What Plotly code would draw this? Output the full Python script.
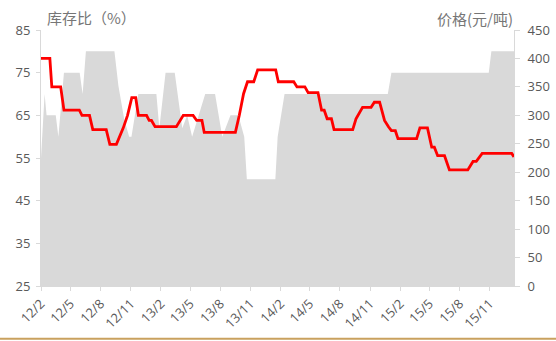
import plotly.graph_objects as go

# Stock ratio (%), left axis
ratio_dates = [
    "2012-02-01", "2012-02-12", "2012-02-18", "2012-03-17", "2012-03-25",
    "2012-04-11", "2012-05-29", "2012-06-07", "2012-06-17", "2012-09-12",
    "2012-09-24", "2012-10-12", "2012-10-27", "2012-11-03", "2012-11-24",
    "2013-01-18", "2013-01-27", "2013-02-15", "2013-03-15", "2013-04-07",
    "2013-04-22", "2013-05-07", "2013-06-16", "2013-07-16", "2013-08-07",
    "2013-09-01", "2013-09-25", "2013-10-13", "2013-10-21", "2014-01-16",
    "2014-01-23", "2014-02-13", "2014-12-25", "2015-01-05", "2015-10-29",
    "2015-11-06", "2016-01-14",
]
ratio_values = [
    55, 70, 65, 65, 60,
    75, 75, 70, 80, 80,
    72, 64, 60, 60, 70,
    70, 62, 75, 75, 62,
    65, 60, 70, 70, 60,
    65, 65, 60, 50, 50,
    60, 70, 70, 75, 75,
    80, 80,
]

# Price (yuan/ton), right axis
price_dates = [
    "2012-02-01", "2012-02-28", "2012-03-05", "2012-04-01", "2012-04-11",
    "2012-05-28", "2012-06-05", "2012-06-28", "2012-07-08", "2012-08-18",
    "2012-08-29", "2012-09-18", "2012-10-09", "2012-10-22", "2012-11-04",
    "2012-11-16", "2012-11-24", "2012-12-19", "2012-12-27", "2013-01-03",
    "2013-01-14", "2013-03-20", "2013-04-10", "2013-05-10", "2013-05-21",
    "2013-06-06", "2013-06-13", "2013-09-16", "2013-09-28", "2013-10-11",
    "2013-10-23", "2013-11-11", "2013-11-23", "2014-01-17", "2014-01-25",
    "2014-03-13", "2014-03-23", "2014-04-16", "2014-04-26", "2014-05-26",
    "2014-06-06", "2014-06-14", "2014-06-23", "2014-07-06", "2014-07-14",
    "2014-09-09", "2014-09-19", "2014-10-09", "2014-11-04", "2014-11-14",
    "2014-11-30", "2014-12-07", "2014-12-15", "2014-12-27", "2015-01-05",
    "2015-01-17", "2015-01-25", "2015-03-23", "2015-04-02", "2015-04-25",
    "2015-05-08", "2015-05-16", "2015-05-26", "2015-06-16", "2015-07-01",
    "2015-08-26", "2015-09-11", "2015-09-21", "2015-10-09", "2016-01-07",
    "2016-01-14",
]
price_values = [
    400, 400, 350, 350, 309,
    309, 300, 300, 275, 275,
    249, 249, 278, 300, 331,
    331, 300, 300, 291, 291,
    280, 280, 300, 300, 291,
    291, 270, 270, 300, 338,
    359, 359, 380, 380, 359,
    359, 350, 350, 340, 340,
    309, 309, 294, 294, 275,
    275, 294, 314, 314, 323,
    323, 309, 291, 280, 273,
    273, 259, 259, 278, 278,
    244, 244, 229, 229, 204,
    204, 219, 219, 233, 233,
    227,
]

left_ticks = [25, 35, 45, 55, 65, 75, 85]
right_ticks = [0, 50, 100, 150, 200, 250, 300, 350, 400, 450]

num_font = dict(family="Open Sans, DejaVu Sans, sans-serif", size=13, color="#595959")
cjk_font = dict(family="Noto Sans CJK SC, sans-serif", size=15, color="#767676")

fig = go.Figure()
fig.add_trace(go.Scatter(
    x=ratio_dates, y=ratio_values, mode="lines", fill="tozeroy",
    line=dict(color="#D9D9D9", width=0), fillcolor="#D9D9D9",
    yaxis="y", showlegend=False, hoverinfo="skip",
))
fig.add_trace(go.Scatter(
    x=price_dates, y=price_values, mode="lines",
    line=dict(color="#FF0000", width=2.8),
    yaxis="y2", showlegend=False,
))

fig.update_layout(
    width=556, height=341,
    margin=dict(l=41, r=42, t=30, b=55),
    paper_bgcolor="white", plot_bgcolor="white",
    xaxis=dict(
        type="date", range=["2012-02-01", "2016-01-14"],
        tick0="2012-02-01", dtick="M3", tickformat="%y/%-m",
        tickangle=-45, tickfont=num_font, automargin=False,
        ticks="outside", ticklen=4, tickcolor="#D9D9D9",
        showline=True, linecolor="#D9D9D9", linewidth=1,
        showgrid=False, zeroline=False,
    ),
    yaxis=dict(
        range=[25, 85], tickvals=left_ticks, tickfont=num_font,
        automargin=False,
        ticks="outside", ticklen=4, tickcolor="#D9D9D9",
        ticklabelstandoff=3,
        showline=True, linecolor="#D9D9D9", linewidth=1,
        showgrid=False, zeroline=False,
    ),
    yaxis2=dict(
        range=[0, 450], tickvals=right_ticks, tickfont=num_font,
        overlaying="y", side="right", automargin=False,
        ticks="outside", ticklen=5, tickcolor="#D9D9D9",
        ticklabelstandoff=5,
        showline=True, linecolor="#D9D9D9", linewidth=1,
        showgrid=False, zeroline=False,
    ),
    annotations=[
        dict(text="库存比（%）", xref="paper", yref="paper", x=0.0, y=1.0,
             xanchor="left", yanchor="bottom", yshift=0, xshift=4,
             showarrow=False, font=cjk_font),
        dict(text="价格(元/吨)", xref="paper", yref="paper", x=1.0, y=1.0,
             xanchor="right", yanchor="bottom", yshift=-1, xshift=1,
             showarrow=False, font=cjk_font),
    ],
    shapes=[
        dict(type="line", xref="paper", yref="paper",
             x0=-41 / 473, x1=(556 - 41) / 473, y0=-0.206, y1=-0.206,
             line=dict(color="#C9A15E", width=2)),
    ],
)

fig.write_html("out.html")
